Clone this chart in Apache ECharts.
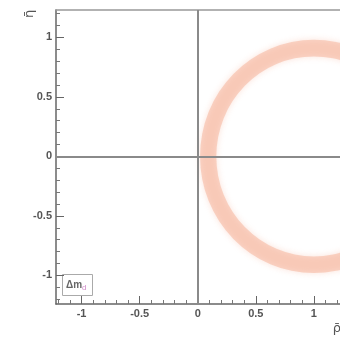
<!DOCTYPE html>
<html><head><meta charset="utf-8">
<script src="https://cdn.jsdelivr.net/npm/echarts@6/dist/echarts.min.js"></script>
<style>html,body{margin:0;padding:0;background:#fff}#c{width:340px;height:345px}</style>
</head><body><div id="c"></div>
<script>
// Tick labels / tick positions
const xMajorTicks = [-1, -0.5, 0, 0.5, 1];
const yMajorTicks = [-1, -0.5, 0, 0.5, 1];
const xMinorTicks = [-1.2, -1.1, -0.9, -0.8, -0.7, -0.6, -0.4, -0.3, -0.2, -0.1, 0.1, 0.2, 0.3, 0.4, 0.6, 0.7, 0.8, 0.9, 1.1, 1.2];
const yMinorTicks = [-1.2, -1.1, -0.9, -0.8, -0.7, -0.6, -0.4, -0.3, -0.2, -0.1, 0.1, 0.2, 0.3, 0.4, 0.6, 0.7, 0.8, 0.9, 1.1, 1.2];
// Δm_d constraint ring: centre (rho, eta), outer and inner radius
const ringRho = [1.0];
const ringEta = [0.0];
const ringOuter = [0.98];
const ringInner = [0.84];
const xTitle = 'ρ̄';
const yTitle = 'η̄';
const legendMain = 'Δm';
const legendSub = 'd';

const ringData = ringRho.map((r, i) => [r, ringEta[i], ringOuter[i], ringInner[i]]);

const chart = echarts.init(document.getElementById('c'), null, {renderer: 'canvas'});
const labelStyle = {fontFamily: 'Liberation Sans, Arial, sans-serif', fontSize: 11, fontWeight: 'bold', color: '#555'};
const X_MIN = -1.22, X_MAX = 1.225, Y_MIN = -1.24, Y_MAX = 1.23;

chart.setOption({
  animation: false,
  backgroundColor: '#fff',
  grid: {left: 56, top: 10, right: 0, bottom: 41, containLabel: false},
  xAxis: [
    {type: 'value', position: 'bottom', min: X_MIN, max: X_MAX,
     axisLine: {onZero: false, lineStyle: {color: '#666', width: 1.5}},
     axisTick: {inside: true, length: 8, customValues: xMajorTicks, lineStyle: {color: '#666', width: 1}},
     axisLabel: Object.assign({customValues: xMajorTicks, margin: 4}, labelStyle),
     splitLine: {show: false}},
    {type: 'value', position: 'top', min: X_MIN, max: X_MAX,
     axisLine: {onZero: false, lineStyle: {color: '#999', width: 1.5}},
     axisTick: {show: false}, axisLabel: {show: false}, splitLine: {show: false}},
    {type: 'value', position: 'bottom', min: X_MIN, max: X_MAX,
     axisLine: {show: false, onZero: false},
     axisTick: {inside: true, length: 4, customValues: xMinorTicks, lineStyle: {color: '#777', width: 1}},
     axisLabel: {show: false}, splitLine: {show: false}}
  ],
  yAxis: [
    {type: 'value', position: 'left', min: Y_MIN, max: Y_MAX,
     axisLine: {show: true, onZero: false, lineStyle: {color: '#666', width: 1.5}},
     axisTick: {show: true, inside: true, length: 8, customValues: yMajorTicks, lineStyle: {color: '#666', width: 1}},
     axisLabel: Object.assign({customValues: yMajorTicks, margin: 4}, labelStyle),
     splitLine: {show: false}},
    {type: 'value', position: 'left', min: Y_MIN, max: Y_MAX,
     axisLine: {show: false, onZero: false},
     axisTick: {show: true, inside: true, length: 4, customValues: yMinorTicks, lineStyle: {color: '#777', width: 1}},
     axisLabel: {show: false}, splitLine: {show: false}}
  ],
  series: [
    {
      type: 'custom', xAxisIndex: 0, yAxisIndex: 0,
      data: ringData,
      renderItem: function (params, api) {
        const c = api.coord([api.value(0), api.value(1)]);
        const so = api.size([api.value(2), api.value(2)]);
        const si = api.size([api.value(3), api.value(3)]);
        return {
          type: 'ring', x: c[0], y: c[1], scaleX: so[0] / so[1],
          shape: {cx: 0, cy: 0, r: so[1], r0: si[1]},
          style: {fill: 'rgba(244,168,140,0.45)', shadowBlur: 6, shadowColor: 'rgba(244,168,140,0.7)'}
        };
      },
      markLine: {
        silent: true, symbol: ['none', 'none'], label: {show: false},
        lineStyle: {color: '#8a8a8a', width: 2, type: 'solid'},
        data: [{xAxis: 0}, {yAxis: 0}]
      },
      z: 2
    }
  ],
  graphic: [
    {type: 'text', x: 30, y: 14, rotation: Math.PI / 2,
     style: {text: yTitle, fontFamily: 'DejaVu Sans, sans-serif', fontSize: 13, fill: '#555', align: 'center', verticalAlign: 'middle'}},
    {type: 'text', x: 341, y: 329,
     style: {text: xTitle, fontFamily: 'DejaVu Sans, sans-serif', fontSize: 13, fill: '#555', align: 'right', verticalAlign: 'middle'}},
    {type: 'rect', shape: {x: 62.5, y: 274.5, width: 30, height: 21},
     style: {fill: '#fff', stroke: '#aaa', lineWidth: 1}},
    {type: 'text', x: 66, y: 285,
     style: {text: '{a|' + legendMain + '}{b|' + legendSub + '}', verticalAlign: 'middle',
       rich: {a: {fontFamily: 'Liberation Sans, sans-serif', fontSize: 10, fontWeight: 'bold', fill: '#666', color: '#666'},
              b: {fontFamily: 'Liberation Sans, sans-serif', fontSize: 8, fill: '#d08ac8', color: '#d08ac8', padding: [6, 0, 0, 0]}}}}
  ]
});
</script></body></html>
